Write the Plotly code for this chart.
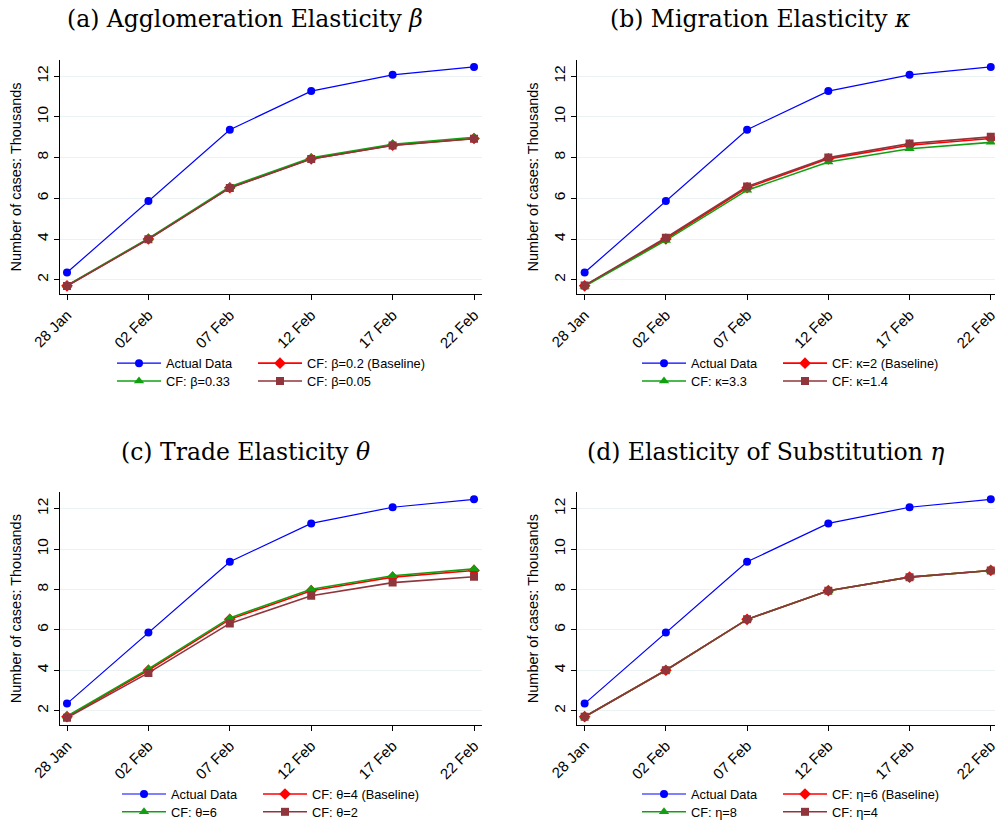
import pandas as pd
import plotly.graph_objects as go

# ---------------- data ----------------
dates = ["2020-01-28", "2020-02-02", "2020-02-07", "2020-02-12", "2020-02-17", "2020-02-22"]
tick_labels = ["28 Jan", "02 Feb", "07 Feb", "12 Feb", "17 Feb", "22 Feb"]

actual = [2.35, 5.87, 9.37, 11.27, 12.07, 12.46]
baseline = [1.70, 4.00, 6.52, 7.94, 8.61, 8.94]

# (a) Agglomeration elasticity beta
a_high = [1.72, 4.03, 6.57, 7.99, 8.66, 9.00]   # beta = 0.33
a_low = [1.69, 3.99, 6.51, 7.93, 8.60, 8.93]    # beta = 0.05
# (b) Migration elasticity kappa
b_high = [1.68, 3.93, 6.40, 7.79, 8.44, 8.75]   # kappa = 3.3
b_low = [1.72, 4.06, 6.58, 8.00, 8.69, 9.02]    # kappa = 1.4
# (c) Trade elasticity theta
c_high = [1.72, 4.07, 6.59, 8.01, 8.68, 9.02]   # theta = 6
c_low = [1.65, 3.87, 6.32, 7.69, 8.34, 8.63]    # theta = 2
# (d) Elasticity of substitution eta
d_high = [1.70, 4.00, 6.52, 7.94, 8.61, 8.94]   # eta = 8
d_low = [1.70, 4.00, 6.52, 7.94, 8.61, 8.94]    # eta = 4

panel_titles = ["(a) Agglomeration Elasticity <i>β</i>",
                "(b) Migration Elasticity <i>κ</i>",
                "(c) Trade Elasticity <i>θ</i>",
                "(d) Elasticity of Substitution <i>η</i>"]
base_names = ["CF: β=0.2 (Baseline)", "CF: κ=2 (Baseline)", "CF: θ=4 (Baseline)", "CF: η=6 (Baseline)"]
high_names = ["CF: β=0.33", "CF: κ=3.3", "CF: θ=6", "CF: η=8"]
low_names = ["CF: β=0.05", "CF: κ=1.4", "CF: θ=2", "CF: η=4"]
highs = [a_high, b_high, c_high, d_high]
lows = [a_low, b_low, c_low, d_low]

# ---------------- style ----------------
BLUE = "#0000FF"
RED = "#FF0000"
GREEN = "#12A012"
BROWN = "#90353B"
GRID = "#EAF2F3"
SANS = "Liberation Sans, Arial, sans-serif"
SERIF = "DejaVu Serif, serif"

W, H = 998, 827
# pixel boxes of the plotting areas: (left, right, top, bottom)
boxes = [(60, 482, 60, 296.5), (577, 995, 60, 296.5),
         (60, 482, 495.7, 730.5), (577, 995, 495.7, 730.5)]
xpad = [(-0.43, 25.49), (-0.47, 25.26), (-0.43, 25.49), (-0.47, 25.26)]
title_pos = [(245, 19), (760, 19), (245, 455), (765, 455)]
# legend column x (left edge) and row centres y, per panel
leg_cols = [(112, 253), (637, 778), (117, 258), (637, 778)]
leg_rows = [(366, 384), (366, 384), (800, 818), (800, 818)]

x_dates = pd.to_datetime(dates)
t0 = x_dates[0]

fig = go.Figure()
legend_specs = []

for i in range(4):
    xa = "x" if i == 0 else f"x{i+1}"
    ya = "y" if i == 0 else f"y{i+1}"
    series = [
        ("Actual Data", actual, BLUE, "circle", 8, 1.2, 0, 0),
        (base_names[i], baseline, RED, "diamond", 9, 1.6, 1, 0),
        (high_names[i], highs[i], GREEN, "triangle-up", 9, 1.6, 0, 1),
        (low_names[i], lows[i], BROWN, "square", 8, 1.6, 1, 1),
    ]
    for name, vals, col, sym, ms, lw, c, rr in series:
        k = len(legend_specs)
        leg = "legend" if k == 0 else f"legend{k+1}"
        legend_specs.append((leg, leg_cols[i][c], leg_rows[i][rr]))
        fig.add_trace(go.Scatter(
            x=x_dates, y=vals, name=name, mode="lines+markers",
            line=dict(color=col, width=lw),
            marker=dict(color=col, symbol=sym, size=ms),
            xaxis=xa, yaxis=ya, legend=leg, showlegend=True,
        ))

layout = dict(
    width=W, height=H, margin=dict(l=0, r=0, t=0, b=0),
    paper_bgcolor="white", plot_bgcolor="white",
    font=dict(family=SANS, size=12, color="black"),
)

for i in range(4):
    l, r, t, b = boxes[i]
    xs = "xaxis" if i == 0 else f"xaxis{i+1}"
    ys = "yaxis" if i == 0 else f"yaxis{i+1}"
    xa = "x" if i == 0 else f"x{i+1}"
    ya = "y" if i == 0 else f"y{i+1}"
    r0 = (t0 + pd.Timedelta(days=xpad[i][0])).strftime("%Y-%m-%d %H:%M:%S")
    r1 = (t0 + pd.Timedelta(days=xpad[i][1])).strftime("%Y-%m-%d %H:%M:%S")
    layout[xs] = dict(
        domain=[l / W, r / W], anchor=ya, type="date", range=[r0, r1],
        tickvals=list(x_dates), ticktext=tick_labels, tickangle=-45,
        ticks="outside", ticklen=5, tickcolor="black", tickwidth=1,
        showline=True, linecolor="black", linewidth=1.3,
        showgrid=False, zeroline=False, automargin=False,
        ticklabeloverflow="allow",
        tickfont=dict(family=SANS, size=15, color="black"),
    )
    layout[ys] = dict(
        domain=[1 - b / H, 1 - t / H], anchor=xa, range=[1.28, 12.82],
        tickvals=[2, 4, 6, 8, 10, 12], tickangle=-90,
        ticks="outside", ticklen=5, tickcolor="black", tickwidth=1,
        showline=True, linecolor="black", linewidth=1.3,
        showgrid=True, gridcolor=GRID, gridwidth=1, zeroline=False,
        automargin=False, ticklabeloverflow="allow",
        tickfont=dict(family=SANS, size=15.5, color="black"),
        title=dict(text="Number of cases: Thousands", standoff=8,
                   font=dict(family=SANS, size=14.5, color="black")),
    )

for key, px, py in legend_specs:
    layout[key] = dict(
        x=px / W, y=1 - py / H, xanchor="left", yanchor="middle",
        orientation="v", bgcolor="rgba(0,0,0,0)", borderwidth=0,
        font=dict(family=SANS, size=12.8, color="black"),
        tracegroupgap=0, itemwidth=44,
    )

annotations = []
for i, (px, py) in enumerate(title_pos):
    annotations.append(dict(
        text=panel_titles[i], x=px / W, y=1 - py / H, xref="paper", yref="paper",
        xanchor="center", yanchor="middle", showarrow=False,
        font=dict(family=SERIF, size=23.5, color="black"),
    ))
layout["annotations"] = annotations

fig.update_layout(**layout)
fig.write_html("out.html")
